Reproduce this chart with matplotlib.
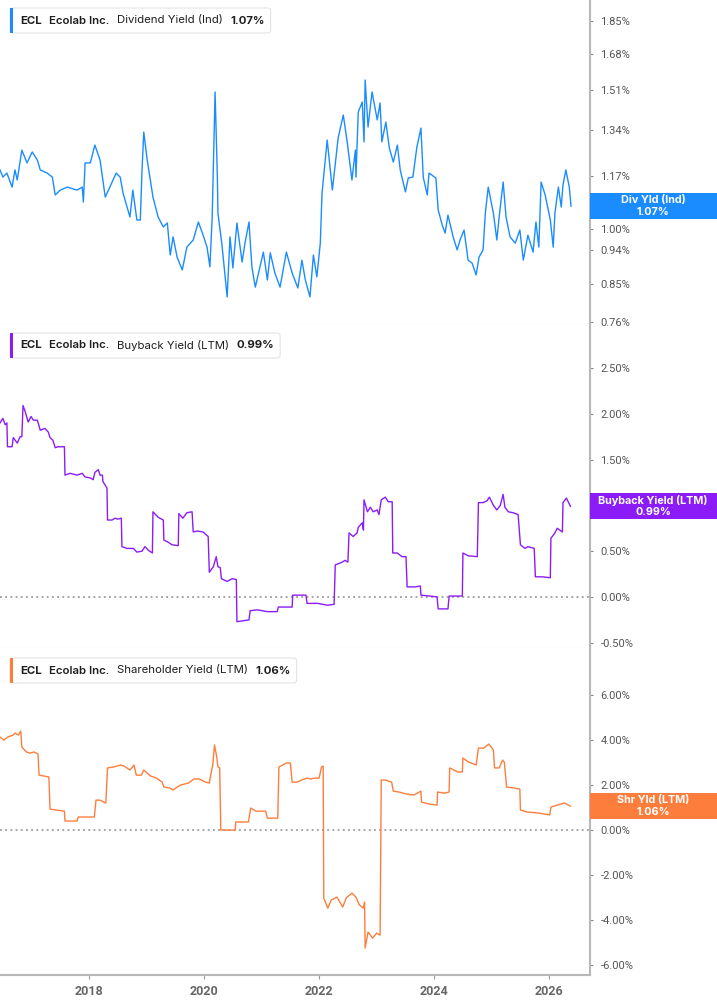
import matplotlib
matplotlib.use('Agg')
import matplotlib.pyplot as plt
from matplotlib.patches import Rectangle, FancyBboxPatch
from matplotlib.transforms import IdentityTransform
from matplotlib.ticker import FuncFormatter, NullLocator

plt.rcParams['font.family'] = 'Roboto'

W, H = 717, 1005

# ---- data (decimal years, % values) ----
div_years = [2016.45, 2016.50, 2016.57, 2016.66, 2016.71, 2016.75, 2016.83, 2016.92, 2017.01, 2017.10,
             2017.15, 2017.27, 2017.36, 2017.41, 2017.50, 2017.62, 2017.79, 2017.88, 2017.90, 2017.93,
             2018.02, 2018.10, 2018.19, 2018.28, 2018.36, 2018.47, 2018.54, 2018.59, 2018.71, 2018.76,
             2018.83, 2018.89, 2018.92, 2018.95, 2019.01, 2019.11, 2019.20, 2019.29, 2019.36, 2019.41,
             2019.46, 2019.53, 2019.62, 2019.70, 2019.81, 2019.90, 2019.97, 2020.05, 2020.10, 2020.14,
             2020.19, 2020.23, 2020.24, 2020.31, 2020.40, 2020.45, 2020.50, 2020.57, 2020.66, 2020.71,
             2020.78, 2020.83, 2020.89, 2020.97, 2021.03, 2021.10, 2021.15, 2021.23, 2021.32, 2021.43,
             2021.53, 2021.63, 2021.70, 2021.76, 2021.84, 2021.90, 2021.96, 2022.02, 2022.05, 2022.14,
             2022.23, 2022.33, 2022.42, 2022.49, 2022.57, 2022.63, 2022.64, 2022.68, 2022.75, 2022.78,
             2022.80, 2022.85, 2022.92, 2023.01, 2023.06, 2023.09, 2023.16, 2023.22, 2023.29, 2023.36,
             2023.41, 2023.50, 2023.55, 2023.63, 2023.70, 2023.77, 2023.81, 2023.88, 2023.91, 2024.03,
             2024.07, 2024.14, 2024.19, 2024.24, 2024.33, 2024.40, 2024.45, 2024.52, 2024.59, 2024.66,
             2024.73, 2024.78, 2024.85, 2024.89, 2024.94, 2025.03, 2025.09, 2025.13, 2025.20, 2025.25,
             2025.32, 2025.41, 2025.49, 2025.55, 2025.63, 2025.72, 2025.77, 2025.82, 2025.86, 2025.93,
             2026.02, 2026.07, 2026.10, 2026.16, 2026.21, 2026.24, 2026.29, 2026.35, 2026.38]
div_vals = [1.191, 1.166, 1.180, 1.132, 1.191, 1.156, 1.263, 1.216, 1.256, 1.226,
            1.191, 1.180, 1.166, 1.106, 1.122, 1.132, 1.122, 1.132, 1.083, 1.216,
            1.216, 1.282, 1.226, 1.099, 1.132, 1.180, 1.166, 1.112, 1.036, 1.122,
            1.027, 1.027, 1.191, 1.332, 1.226, 1.099, 1.036, 1.006, 1.018, 0.926,
            0.977, 0.920, 0.886, 0.948, 0.968, 1.021, 0.988, 0.948, 0.894, 1.036,
            1.500, 1.166, 1.048, 0.954, 0.818, 0.977, 0.891, 1.018, 0.907, 0.959,
            1.021, 0.894, 0.842, 0.894, 0.934, 0.860, 0.932, 0.878, 0.842, 0.934,
            0.878, 0.840, 0.912, 0.860, 0.818, 0.926, 0.868, 0.959, 1.112, 1.301,
            1.122, 1.309, 1.401, 1.290, 1.156, 1.263, 1.166, 1.414, 1.456, 1.294,
            1.554, 1.352, 1.500, 1.381, 1.452, 1.294, 1.372, 1.271, 1.219, 1.282,
            1.191, 1.116, 1.163, 1.166, 1.275, 1.348, 1.166, 1.106, 1.180, 1.163,
            1.058, 1.012, 0.988, 1.042, 0.977, 0.940, 0.968, 0.997, 0.912, 0.904,
            0.873, 0.920, 0.940, 1.048, 1.132, 1.048, 0.968, 1.036, 1.149, 1.036,
            0.977, 0.959, 0.997, 0.912, 0.982, 0.934, 1.021, 0.948, 1.149, 1.106,
            1.027, 0.948, 1.048, 1.132, 1.067, 1.139, 1.191, 1.132, 1.07]

bb_years = [2016.45, 2016.50, 2016.54, 2016.57, 2016.58, 2016.66, 2016.68, 2016.75, 2016.80, 2016.83,
            2016.85, 2016.89, 2016.94, 2016.99, 2017.03, 2017.10, 2017.15, 2017.23, 2017.29, 2017.32,
            2017.37, 2017.41, 2017.46, 2017.57, 2017.58, 2017.67, 2017.79, 2017.88, 2017.93, 2018.02,
            2018.07, 2018.10, 2018.16, 2018.19, 2018.23, 2018.24, 2018.28, 2018.31, 2018.32, 2018.40,
            2018.45, 2018.50, 2018.56, 2018.57, 2018.66, 2018.77, 2018.83, 2018.92, 2018.97, 2019.03,
            2019.10, 2019.11, 2019.20, 2019.29, 2019.30, 2019.37, 2019.44, 2019.55, 2019.56, 2019.63,
            2019.70, 2019.79, 2019.81, 2019.88, 2019.98, 2020.07, 2020.09, 2020.16, 2020.21, 2020.24,
            2020.28, 2020.30, 2020.40, 2020.49, 2020.56, 2020.57, 2020.68, 2020.78, 2020.80, 2020.92,
            2021.10, 2021.27, 2021.29, 2021.53, 2021.54, 2021.77, 2021.79, 2021.98, 2022.14, 2022.26,
            2022.28, 2022.40, 2022.45, 2022.50, 2022.52, 2022.59, 2022.66, 2022.68, 2022.75, 2022.77,
            2022.78, 2022.84, 2022.89, 2022.94, 2023.01, 2023.04, 2023.08, 2023.15, 2023.20, 2023.27,
            2023.28, 2023.36, 2023.44, 2023.51, 2023.53, 2023.67, 2023.76, 2023.77, 2023.93, 2024.05,
            2024.07, 2024.24, 2024.26, 2024.49, 2024.50, 2024.59, 2024.75, 2024.77, 2024.85, 2024.92,
            2024.96, 2025.03, 2025.09, 2025.15, 2025.20, 2025.23, 2025.29, 2025.37, 2025.46, 2025.50,
            2025.58, 2025.63, 2025.74, 2025.76, 2025.88, 2026.02, 2026.03, 2026.10, 2026.14, 2026.23,
            2026.24, 2026.30, 2026.33, 2026.37]
bb_vals = [1.90, 1.95, 1.88, 1.90, 1.64, 1.64, 1.74, 1.68, 1.75, 1.75,
           2.09, 2.02, 1.91, 1.97, 1.93, 1.93, 1.82, 1.84, 1.80, 1.74,
           1.71, 1.63, 1.64, 1.64, 1.33, 1.35, 1.33, 1.35, 1.31, 1.30,
           1.28, 1.36, 1.39, 1.33, 1.33, 1.26, 1.22, 1.19, 0.84, 0.84,
           0.86, 0.85, 0.86, 0.55, 0.53, 0.53, 0.49, 0.50, 0.55, 0.51,
           0.48, 0.93, 0.87, 0.84, 0.62, 0.60, 0.57, 0.56, 0.91, 0.86,
           0.92, 0.93, 0.71, 0.72, 0.71, 0.66, 0.27, 0.33, 0.44, 0.33,
           0.32, 0.20, 0.17, 0.20, 0.19, -0.27, -0.26, -0.25, -0.15, -0.14,
           -0.16, -0.16, -0.11, -0.11, 0.02, 0.02, -0.07, -0.07, -0.09, -0.08,
           0.35, 0.38, 0.40, 0.38, 0.70, 0.66, 0.70, 0.76, 0.81, 0.73,
           1.06, 0.93, 0.98, 0.93, 0.95, 0.90, 1.06, 1.09, 1.04, 1.04,
           0.48, 0.48, 0.44, 0.44, 0.11, 0.11, 0.12, 0.02, 0.01, 0.00,
           -0.13, -0.13, 0.01, 0.01, 0.48, 0.45, 0.44, 1.03, 1.03, 1.05,
           1.09, 1.00, 0.95, 1.00, 1.12, 0.98, 0.93, 0.92, 0.90, 0.57,
           0.53, 0.55, 0.53, 0.22, 0.22, 0.21, 0.64, 0.70, 0.75, 0.71,
           1.03, 1.08, 1.04, 0.99]

shr_years = [2016.45, 2016.52, 2016.58, 2016.68, 2016.71, 2016.77, 2016.81, 2016.83, 2016.91, 2016.97,
             2017.04, 2017.11, 2017.13, 2017.30, 2017.32, 2017.43, 2017.57, 2017.58, 2017.79, 2017.81,
             2018.09, 2018.12, 2018.19, 2018.29, 2018.32, 2018.42, 2018.55, 2018.61, 2018.71, 2018.78,
             2018.82, 2018.91, 2018.95, 2019.07, 2019.17, 2019.27, 2019.30, 2019.40, 2019.46, 2019.53,
             2019.59, 2019.73, 2019.82, 2019.92, 2020.02, 2020.09, 2020.12, 2020.15, 2020.18, 2020.22,
             2020.24, 2020.27, 2020.29, 2020.54, 2020.55, 2020.77, 2020.81, 2020.90, 2021.07, 2021.10,
             2021.28, 2021.30, 2021.43, 2021.50, 2021.53, 2021.62, 2021.69, 2021.79, 2021.85, 2021.92,
             2022.00, 2022.04, 2022.07, 2022.08, 2022.15, 2022.21, 2022.31, 2022.41, 2022.47, 2022.57,
             2022.64, 2022.70, 2022.77, 2022.79, 2022.80, 2022.85, 2022.93, 2023.00, 2023.06, 2023.08,
             2023.16, 2023.26, 2023.29, 2023.39, 2023.52, 2023.65, 2023.77, 2023.78, 2023.91, 2024.05,
             2024.06, 2024.18, 2024.26, 2024.27, 2024.41, 2024.49, 2024.50, 2024.60, 2024.73, 2024.77,
             2024.86, 2024.95, 2025.03, 2025.05, 2025.13, 2025.19, 2025.22, 2025.26, 2025.39, 2025.49,
             2025.50, 2025.62, 2025.81, 2026.01, 2026.03, 2026.14, 2026.27, 2026.37]
shr_vals = [4.13, 4.00, 4.13, 4.22, 4.31, 4.22, 4.40, 3.69, 3.47, 3.42,
            3.47, 3.38, 2.44, 2.36, 0.93, 0.89, 0.84, 0.40, 0.40, 0.58,
            0.58, 1.33, 1.33, 1.20, 2.76, 2.80, 2.89, 2.84, 2.67, 2.89,
            2.44, 2.44, 2.67, 2.40, 2.31, 2.13, 1.91, 1.87, 1.78, 1.91,
            2.00, 2.09, 2.27, 2.27, 2.13, 2.09, 2.53, 2.89, 3.78, 3.24,
            2.80, 2.76, 0.00, 0.00, 0.36, 0.36, 0.98, 0.84, 0.84, 0.53,
            0.53, 2.80, 2.98, 2.98, 2.13, 2.13, 2.22, 2.31, 2.27, 2.31,
            2.31, 2.80, 2.84, -3.02, -3.47, -3.11, -2.98, -3.42, -3.02, -2.80,
            -2.98, -3.33, -3.47, -3.20, -5.24, -4.53, -4.80, -4.58, -4.67, 2.22,
            2.22, 2.13, 1.73, 1.69, 1.60, 1.56, 1.73, 1.24, 1.16, 1.11,
            1.69, 1.64, 1.69, 2.76, 2.58, 2.58, 3.20, 3.02, 2.89, 3.64,
            3.64, 3.82, 3.56, 2.76, 2.76, 3.11, 3.02, 1.91, 1.87, 1.82,
            0.89, 0.80, 0.76, 0.67, 1.02, 1.11, 1.20, 1.06]

div_ticks = [0.76, 0.85, 0.94, 1.00, 1.17, 1.34, 1.51, 1.68, 1.85]
bb_ticks = [-0.5, 0.0, 0.5, 1.0, 1.5, 2.0, 2.5]
shr_ticks = [-6, -4, -2, 0, 2, 4, 6]
year_ticks = [2018, 2020, 2022, 2024, 2026]

blue = '#1a8cff'
purple = '#8c1cf7'
orange = '#fd7e3c'

fig = plt.figure(figsize=(W / 100, H / 100), dpi=100)


def add_panel(top, bottom):
    return fig.add_axes([0, 1 - bottom / H, 590 / W, (bottom - top) / H])


ax1 = add_panel(0, 324)
ax2 = add_panel(324, 648)
ax3 = add_panel(648, 975)

pct = FuncFormatter(lambda v, p: '%.2f%%' % v)

for ax in (ax1, ax2, ax3):
    ax.set_xlim(2016.45, 2026.71)
    ax.yaxis.tick_right()
    ax.spines['left'].set_visible(False)
    ax.spines['top'].set_visible(False)
    ax.spines['right'].set_color('#b8b8b8')
    ax.spines['right'].set_linewidth(1.5)
    ax.spines['bottom'].set_color('#d4d4d4')
    ax.spines['bottom'].set_linewidth(0.8)
    ax.tick_params(axis='y', which='both', direction='out', length=2.5, width=0.8,
                   color='#888888', labelsize=8, labelcolor='#555555', pad=5)
    ax.tick_params(axis='x', bottom=False, labelbottom=False)

# panel 1 - dividend yield
ax1.plot(div_years, div_vals, color=blue, lw=1.0)
ax1.set_yscale('log')
ax1.set_ylim(0.755, 1.969)
ax1.yaxis.set_minor_locator(NullLocator())
ax1.set_yticks(div_ticks)
ax1.yaxis.set_major_formatter(pct)

# panel 2 - buyback yield (1.00% label sits under the value tag)
ax2.axhline(0, color='#8a8a8a', lw=1.1, ls=(0, (1.2, 2.2)))
ax2.plot(bb_years, bb_vals, color=purple, lw=1.0)
ax2.set_ylim(-0.557, 2.98)
ax2.set_yticks(bb_ticks)
ax2.yaxis.set_major_formatter(FuncFormatter(lambda v, p: '' if abs(v - 1.0) < 1e-9 else '%.2f%%' % v))

# panel 3 - shareholder yield
ax3.axhline(0, color='#8a8a8a', lw=1.1, ls=(0, (1.2, 2.2)))
ax3.plot(shr_years, shr_vals, color=orange, lw=1.0)
ax3.set_ylim(-6.44, 8.09)
ax3.set_yticks(shr_ticks)
ax3.yaxis.set_major_formatter(pct)
ax3.spines['bottom'].set_color('#b8b8b8')
ax3.spines['bottom'].set_linewidth(1.5)
ax3.set_xticks(year_ticks)
ax3.set_xticklabels([str(y) for y in year_ticks])
ax3.tick_params(axis='x', bottom=True, labelbottom=True, length=3, width=0.8,
                color='#999999', labelsize=9, labelcolor='#666666', pad=4)
for lab in ax3.get_xticklabels():
    lab.set_fontweight('bold')

renderer = fig.canvas.get_renderer()


def legend_box(top, color, parts):
    cy = H - (top + 12.5)
    x = 20
    for s, w in parts:
        t = fig.text(x / W, cy / H, s, ha='left', va='center', fontsize=8.2,
                     family='Inter', fontweight=w, color='#1f1f1f', zorder=5)
        bb = t.get_window_extent(renderer=renderer)
        x = bb.x1 + 7.5
    width = x - 7.5 + 6 - 10
    box = FancyBboxPatch((10, H - top - 25), width, 25, boxstyle='round,pad=0,rounding_size=3',
                         transform=IdentityTransform(), facecolor='white', edgecolor='#e4e4e4',
                         lw=0.8, zorder=4)
    fig.add_artist(box)
    fig.add_artist(Rectangle((10, H - top - 25), 3, 25, transform=IdentityTransform(),
                             facecolor=color, edgecolor='none', zorder=5))


legend_box(8, blue, [('ECL', 'bold'), ('Ecolab Inc.', 'semibold'),
                     ('Dividend Yield (Ind)', 'normal'), ('1.07%', 'bold')])
legend_box(333, purple, [('ECL', 'bold'), ('Ecolab Inc.', 'semibold'),
                         ('Buyback Yield (LTM)', 'normal'), ('0.99%', 'bold')])
legend_box(658, orange, [('ECL', 'bold'), ('Ecolab Inc.', 'semibold'),
                         ('Shareholder Yield (LTM)', 'normal'), ('1.06%', 'bold')])


def value_tag(ax, val, color, line1, line2):
    yd = ax.transData.transform((2020, val))[1]
    fig.add_artist(Rectangle((590, yd - 13), W - 590, 26, transform=IdentityTransform(),
                             facecolor=color, edgecolor='none', zorder=6))
    fig.text(653 / W, (yd + 6) / H, line1, ha='center', va='center', fontsize=7.8,
             family='Inter', fontweight='bold', color='white', zorder=7)
    fig.text(653 / W, (yd - 6) / H, line2, ha='center', va='center', fontsize=7.8,
             family='Inter', fontweight='bold', color='white', zorder=7)


value_tag(ax1, div_vals[-1], blue, 'Div Yld (Ind)', '1.07%')
value_tag(ax2, bb_vals[-1], purple, 'Buyback Yield (LTM)', '0.99%')
value_tag(ax3, shr_vals[-1], orange, 'Shr Yld (LTM)', '1.06%')

fig.savefig('out.png', dpi=100)
